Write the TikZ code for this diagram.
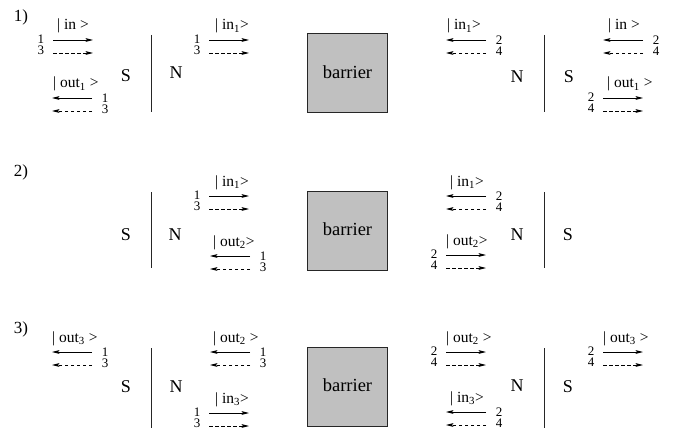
\documentclass[tikz,border=0pt]{standalone}
\usepackage{fontspec}
\setmainfont{Liberation Serif}
\usetikzlibrary{arrows.meta}

\definecolor{barrierfill}{RGB}{192,192,192}

% a pair of rays (solid above, dashed below) running to the right,
% with the two channel numbers on the left and the state label above
\newcommand{\raysright}[7]{%
  \coordinate (#1-a) at (#2,#3);
  \coordinate (#1-b) at (#2+40,#3);
  \coordinate (#1-c) at (#2,#3+13);
  \coordinate (#1-d) at (#2+40,#3+13);
  \draw[ray] (#1-a) -- (#1-b);
  \draw[ray,dashray] (#1-c) -- (#1-d);
  \node[num] (#1-n1) at (#2-12,#3-0.5) {#4};
  \node[num] (#1-n2) at (#2-12,#3+10.5) {#5};
  \node[lab] (#1-l) at (#2+#7,#3-10) {#6};
}
% the same, running to the left, numbers on the right
\newcommand{\raysleft}[7]{%
  \coordinate (#1-a) at (#2+40,#3);
  \coordinate (#1-b) at (#2,#3);
  \coordinate (#1-c) at (#2+40,#3+13);
  \coordinate (#1-d) at (#2,#3+13);
  \draw[ray] (#1-a) -- (#1-b);
  \draw[ray,dashray] (#1-c) -- (#1-d);
  \node[num] (#1-n1) at (#2+53,#3) {#4};
  \node[num] (#1-n2) at (#2+53,#3+11.5) {#5};
  \node[lab] (#1-l) at (#2+#7,#3-10) {#6};
}

\tikzset{
  ray/.style={line width=0.9pt,-{Stealth[length=7.5pt,width=3.8pt,inset=1.6pt]}},
  dashray/.style={dash pattern=on 3.5pt off 2.5pt},
  num/.style={inner sep=0pt,font=\fontsize{13}{13}\selectfont},
  lab/.style={inner sep=0pt,anchor=base west,font=\fontsize{15.5}{15.5}\selectfont},
  side/.style={inner sep=0pt,font=\fontsize{18}{18}\selectfont},
  step label/.style={inner sep=0pt,font=\fontsize{17}{17}\selectfont},
  wall/.style={line width=1pt,draw=black!85},
  barrierbox/.style={draw=black!85,line width=1pt,fill=barrierfill,
    minimum width=80pt,minimum height=79pt,inner sep=0pt,
    font=\fontsize{18.5}{18.5}\selectfont},
}

\begin{document}
\begin{tikzpicture}[x=1pt,y=-1pt]
\useasboundingbox (0,0) rectangle (678,428);
\clip (0,0) rectangle (678,428);

% ---------------- step 1 ----------------
\node[step label] (st1) at (21,17) {1)};
\node[side] (s1l) at (126,76) {S};
\node[side] (n1l) at (176,73) {N};
\coordinate (w1lt) at (151,35); \coordinate (w1lb) at (151,112);
\draw[wall] (w1lt) -- (w1lb);
\node[barrierbox] (b1) at (347.5,73.5) {\raisebox{3pt}{barrier}};
\node[side] (n1r) at (517,77) {N};
\node[side] (s1r) at (569,77) {S};
\coordinate (w1rt) at (544,35); \coordinate (w1rb) at (544,112);
\draw[wall] (w1rt) -- (w1rb);

\raysright{g1a}{53}{40}{1}{3}{| in >}{4}
\raysleft{g1b}{52}{98}{1}{3}{| out\textsubscript{1} >}{1}
\raysright{g1c}{209}{40}{1}{3}{| in\textsubscript{1}>}{6}
\raysleft{g1d}{446}{40}{2}{4}{| in\textsubscript{1}>}{1}
\raysleft{g1e}{603}{40}{2}{4}{| in >}{5}
\raysright{g1f}{603}{98}{2}{4}{| out\textsubscript{1} >}{4}

% ---------------- step 2 ----------------
\node[step label] (st2) at (21,172) {2)};
\node[side] (s2l) at (126,235) {S};
\node[side] (n2l) at (175,235) {N};
\coordinate (w2lt) at (151,192); \coordinate (w2lb) at (151,268);
\draw[wall] (w2lt) -- (w2lb);
\node[barrierbox] (b2) at (347.5,230.5) {\raisebox{3pt}{barrier}};
\node[side] (n2r) at (517,235) {N};
\node[side] (s2r) at (568,235) {S};
\coordinate (w2rt) at (544,192); \coordinate (w2rb) at (544,268);
\draw[wall] (w2rt) -- (w2rb);

\raysright{g2a}{209}{196}{1}{3}{| in\textsubscript{1}>}{6}
\raysleft{g2b}{210}{256}{1}{3}{| out\textsubscript{2}>}{3}
\raysleft{g2c}{446}{196}{2}{4}{| in\textsubscript{1}>}{4}
\raysright{g2d}{446}{255}{2}{4}{| out\textsubscript{2}>}{0}

% ---------------- step 3 ----------------
\node[step label] (st3) at (21,329) {3)};
\node[side] (s3l) at (126,387) {S};
\node[side] (n3l) at (176,387) {N};
\coordinate (w3lt) at (151,348); \coordinate (w3lb) at (151,440);
\draw[wall] (w3lt) -- (w3lb);
\node[barrierbox] (b3) at (347.5,387) {\raisebox{3pt}{barrier}};
\node[side] (n3r) at (517,386) {N};
\node[side] (s3r) at (568,387) {S};
\coordinate (w3rt) at (544,348); \coordinate (w3rb) at (544,440);
\draw[wall] (w3rt) -- (w3rb);

\raysleft{g3a}{52}{352}{1}{3}{| out\textsubscript{3} >}{0}
\raysleft{g3b}{210}{352}{1}{3}{| out\textsubscript{2} >}{3}
\raysright{g3c}{209}{413}{1}{3}{| in\textsubscript{3}>}{6}
\raysright{g3d}{446}{352}{2}{4}{| out\textsubscript{2} >}{0}
\raysleft{g3e}{446}{412}{2}{4}{| in\textsubscript{3}>}{4}
\raysright{g3f}{603}{352}{2}{4}{| out\textsubscript{3} >}{0}
\end{tikzpicture}
\end{document}
